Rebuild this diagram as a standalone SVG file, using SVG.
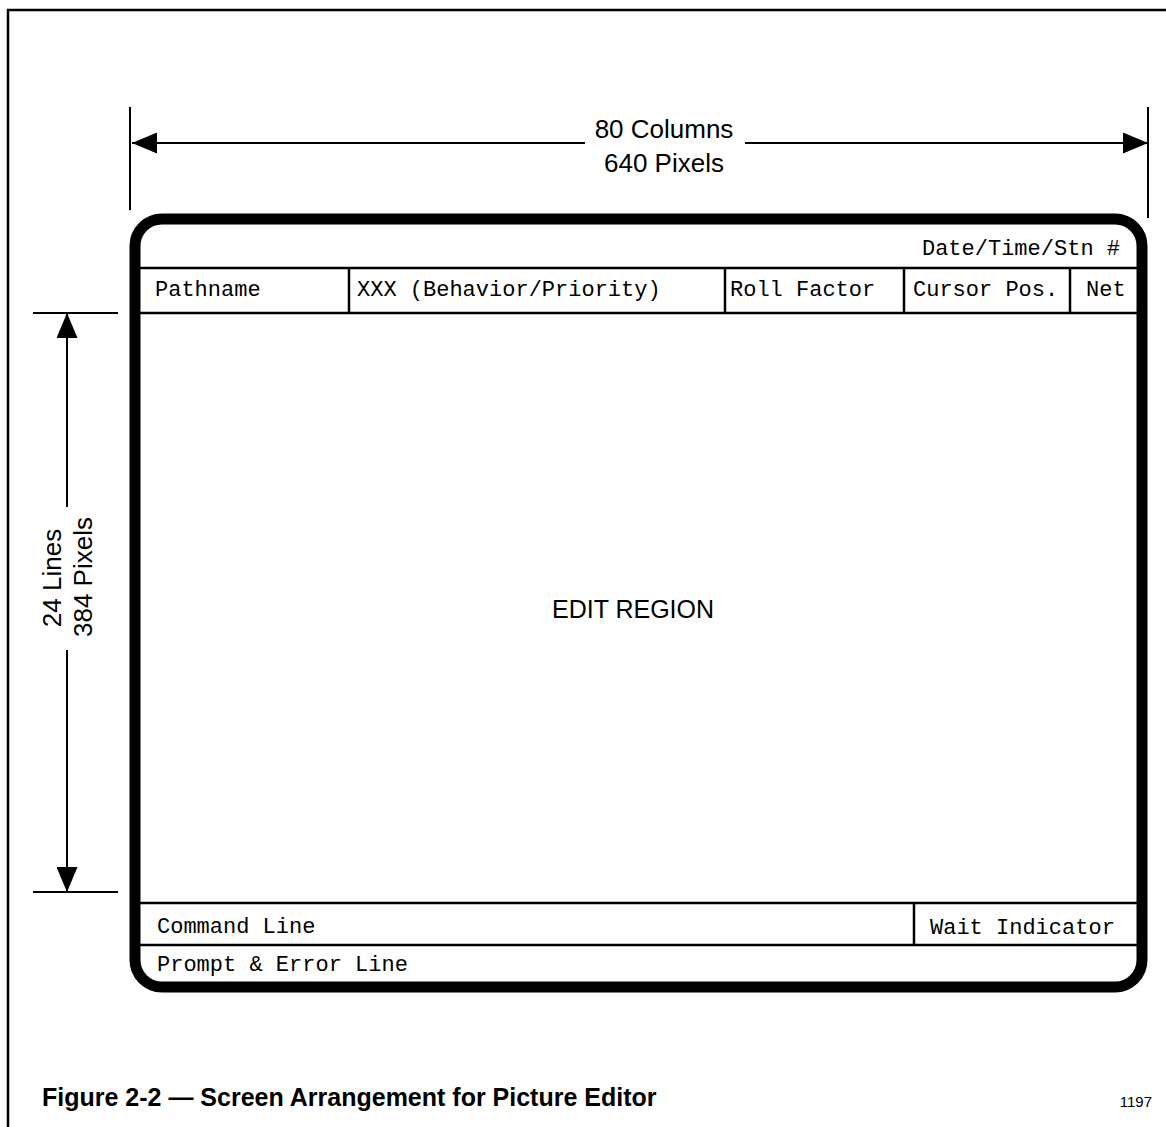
<svg xmlns="http://www.w3.org/2000/svg" width="1166" height="1127" viewBox="0 0 1166 1127">
  <style>
    .frame { fill: none; stroke: #000; stroke-width: 2.5; }
    .dim { fill: none; stroke: #000; stroke-width: 2; }
    .screen { fill: none; stroke: #000; stroke-width: 11; }
    .cell { fill: none; stroke: #000; stroke-width: 2.5; }
    .mono { font-family: "Liberation Mono", "DejaVu Sans Mono", monospace; font-size: 22px; fill: #000; }
    .sans { font-family: "Liberation Sans", Arial, sans-serif; fill: #000; }
    .dimtxt { font-size: 26px; text-anchor: middle; }
  </style>
  <defs>
    <marker id="arrow" viewBox="0 0 25 21" refX="25" refY="10.5" markerWidth="25" markerHeight="21" markerUnits="userSpaceOnUse" orient="auto-start-reverse">
      <path d="M0,0 L25,10.5 L0,21 z" fill="#000"/>
    </marker>
  </defs>
  <rect width="1166" height="1127" fill="#fff"/>

  <!-- page frame -->
  <g id="frame">
    <path class="frame" d="M8,1127 L8,10 L1166,10"/>
  </g>

  <!-- connectors: dimension lines -->
  <g id="connectors">
    <line class="dim" x1="130" y1="107" x2="130" y2="210"/>
    <line class="dim" x1="1148" y1="107" x2="1148" y2="218"/>
    <line class="dim" x1="132" y1="143" x2="585" y2="143" marker-start="url(#arrow)"/>
    <line class="dim" x1="745" y1="143" x2="1148" y2="143" marker-end="url(#arrow)"/>
    <line class="dim" x1="33" y1="313" x2="118" y2="313"/>
    <line class="dim" x1="33" y1="892" x2="118" y2="892"/>
    <line class="dim" x1="67" y1="313" x2="67" y2="507" marker-start="url(#arrow)"/>
    <line class="dim" x1="67" y1="650" x2="67" y2="892" marker-end="url(#arrow)"/>
  </g>

  <g id="width-label">
    <text class="sans dimtxt" x="664" y="138">80 Columns</text>
    <text class="sans dimtxt" x="664" y="172">640 Pixels</text>
  </g>
  <g id="height-label">
    <text class="sans dimtxt" transform="translate(61,578) rotate(-90)">24 Lines</text>
    <text class="sans dimtxt" transform="translate(92,577) rotate(-90)">384 Pixels</text>
  </g>

  <!-- screen -->
  <g id="screen">
    <rect class="screen" x="135" y="219" width="1007" height="768" rx="27" ry="27"/>
  </g>

  <g id="header-row">
    <line class="cell" x1="140" y1="268" x2="1137" y2="268"/>
    <line class="cell" x1="140" y1="313" x2="1137" y2="313"/>
    <line class="cell" x1="349" y1="268" x2="349" y2="313"/>
    <line class="cell" x1="725" y1="268" x2="725" y2="313"/>
    <line class="cell" x1="904" y1="268" x2="904" y2="313"/>
    <line class="cell" x1="1070" y1="268" x2="1070" y2="313"/>
  </g>
  <g id="date-time"><text class="mono" x="1120" y="255" text-anchor="end">Date/Time/Stn #</text></g>
  <g id="pathname"><text class="mono" x="155" y="296">Pathname</text></g>
  <g id="behavior"><text class="mono" x="357" y="296">XXX (Behavior/Priority)</text></g>
  <g id="roll-factor"><text class="mono" x="730" y="296">Roll Factor</text></g>
  <g id="cursor-pos"><text class="mono" x="913" y="296">Cursor Pos.</text></g>
  <g id="net"><text class="mono" x="1086" y="296">Net</text></g>

  <g id="edit-region">
    <text class="sans" x="633" y="618" font-size="25" text-anchor="middle">EDIT REGION</text>
  </g>

  <g id="footer-rows">
    <line class="cell" x1="140" y1="903" x2="1137" y2="903"/>
    <line class="cell" x1="140" y1="945" x2="1137" y2="945"/>
    <line class="cell" x1="914" y1="903" x2="914" y2="945"/>
  </g>
  <g id="command-line"><text class="mono" x="157" y="933">Command Line</text></g>
  <g id="wait-indicator"><text class="mono" x="930" y="934">Wait Indicator</text></g>
  <g id="prompt-line"><text class="mono" x="157" y="971">Prompt &amp; Error Line</text></g>

  <g id="caption">
    <text class="sans" x="42" y="1106" font-size="25" font-weight="bold">Figure 2-2 — Screen Arrangement for Picture Editor</text>
    <text class="sans" x="1152" y="1107" font-size="15" text-anchor="end">1197</text>
  </g>
</svg>
